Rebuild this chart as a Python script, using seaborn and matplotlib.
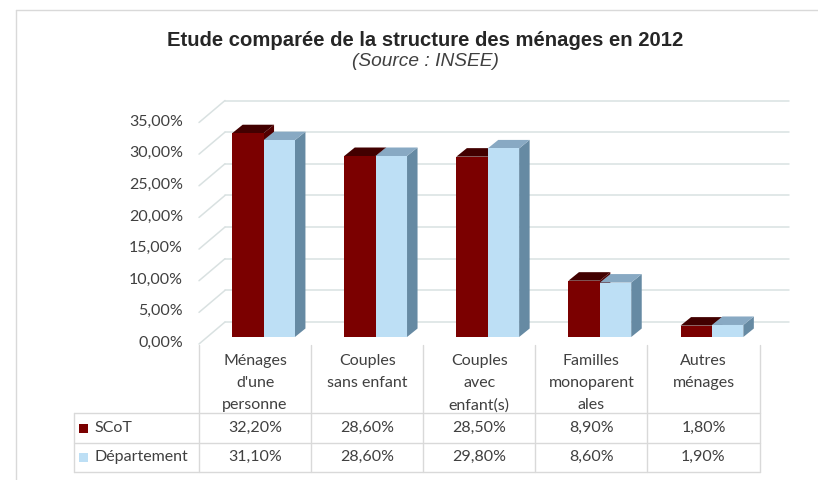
import matplotlib
matplotlib.use("Agg")
import matplotlib.pyplot as plt
import matplotlib.transforms as mtransforms
from matplotlib.patches import Polygon, Rectangle
from matplotlib.lines import Line2D
import pandas as pd
import seaborn as sns

# data
categories = ["Ménages\nd'une\npersonne", "Couples\nsans enfant", "Couples\navec\nenfant(s)",
              "Familles\nmonoparent\nales", "Autres\nménages"]
series = ["SCoT", "Département"]
scot = [32.2, 28.6, 28.5, 8.9, 1.8]
departement = [31.1, 28.6, 29.8, 8.6, 1.9]
yticks = [0, 5, 10, 15, 20, 25, 30, 35]

front_colors = ["#7b0000", "#bddff5"]
top_colors = ["#420000", "#88a9c3"]
side_colors = ["#520000", "#668aa3"]
grid_color = "#d9e1e1"
line_color = "#d9d9d9"
text_color = "#404040"


def fr_pct(v):
    return f"{v:.2f}".replace(".", ",") + "%"


df = pd.DataFrame({
    "cat": categories * 2,
    "serie": [series[0]] * len(scot) + [series[1]] * len(departement),
    "val": scot + departement,
})

sns.set_style("white")
plt.rcParams["font.family"] = ["Lato", "DejaVu Sans"]

W, H = 818, 480
fig = plt.figure(figsize=(W / 100, H / 100), dpi=100)
ax = fig.add_axes([207.5 / W, (H - 337) / H, 560.5 / W, 221.5 / H])

sns.barplot(data=df, x="cat", y="val", hue="serie", palette=front_colors,
            width=0.56, gap=0, saturation=1, legend=False, linewidth=0, ax=ax)
ax.set_xlim(-0.5, 4.5)
ax.set_ylim(0, 35)
ax.set_xticks([])
ax.set_yticks([])
ax.set_xlabel("")
ax.set_ylabel("")
ax.patch.set_alpha(0)
for s in ax.spines.values():
    s.set_visible(False)


def shift(dx, dy):
    return mtransforms.ScaledTranslation(dx / 100, dy / 100, fig.dpi_scale_trans)


# pixel -> data scale
p0 = ax.transData.transform((0, 0))
p1 = ax.transData.transform((1, 1))
px_x = p1[0] - p0[0]
px_y = p1[1] - p0[1]

# back wall gridlines + left diagonals
back = ax.transData + shift(17.5, 15)
for v in yticks:
    ax.plot([-0.5, 4.53], [v, v], transform=back, color=grid_color, lw=1.1,
            zorder=1, clip_on=False)
    ax.plot([-0.5 - 8.5 / px_x, -0.5 + 17.5 / px_x], [v - 7 / px_y, v + 15 / px_y],
            color=grid_color, lw=1.1, zorder=1, clip_on=False)
    ax.text(-0.5, v, fr_pct(v), transform=ax.transData + shift(-24.5, -6),
            ha="right", va="center", fontsize=11.5, color=text_color)

# 3D faces of bars
ddx = 10.5 / px_x
ddy = 8.5 / px_y
for i, cont in enumerate(ax.containers):
    for bar in cont:
        bar.set_zorder(3)
        x0, w, h = bar.get_x(), bar.get_width(), bar.get_height()
        top = [(x0, h), (x0 + w, h), (x0 + w + ddx, h + ddy), (x0 + ddx, h + ddy)]
        side = [(x0 + w, 0), (x0 + w, h), (x0 + w + ddx, h + ddy), (x0 + w + ddx, ddy)]
        ax.add_patch(Polygon(side, closed=True, facecolor=side_colors[i],
                             edgecolor="none", zorder=2, clip_on=False))
        ax.add_patch(Polygon(top, closed=True, facecolor=top_colors[i],
                             edgecolor="none", zorder=2, clip_on=False))

# data table
def fy(ypx):
    return 1 - ypx / H


col = mtransforms.blended_transform_factory(ax.transData + shift(-8.5, 0), fig.transFigure)
for k in range(len(categories) + 1):
    ax.plot([k - 0.5, k - 0.5], [fy(345), fy(472)], transform=col, color=line_color,
            lw=1, zorder=1, clip_on=False)
for ypx in [413, 443, 472]:
    ax.plot([74 / W, 760 / W], [fy(ypx), fy(ypx)], transform=fig.transFigure,
            color=line_color, lw=1, zorder=1, clip_on=False)
ax.plot([74 / W, 74 / W], [fy(413), fy(472)], transform=fig.transFigure,
        color=line_color, lw=1, zorder=1, clip_on=False)

for i, cat in enumerate(categories):
    ax.text(i, fy(354), cat, transform=col, ha="center", va="top", fontsize=11.5,
            color=text_color, linespacing=1.72)
    ax.text(i, fy(428), fr_pct(scot[i]), transform=col, ha="center", va="center",
            fontsize=11.5, color=text_color)
    ax.text(i, fy(457), fr_pct(departement[i]), transform=col, ha="center", va="center",
            fontsize=11.5, color=text_color)

for name, ypx, c in zip(series, [428, 457], front_colors):
    ax.add_patch(Rectangle((79 / W, fy(ypx + 5)), 9 / W, 9 / H, transform=fig.transFigure,
                           facecolor=c, edgecolor="none", clip_on=False))
    ax.text(94 / W, fy(ypx), name, transform=fig.transFigure, ha="left", va="center",
            fontsize=11.5, color=text_color)

# chart border
fig.add_artist(Line2D([16 / W, 16 / W], [0, fy(10)], color=line_color, lw=1))
fig.add_artist(Line2D([16 / W, 1], [fy(10), fy(10)], color=line_color, lw=1))

fig.text(425 / W, fy(40), "Etude comparée de la structure des ménages en 2012",
         ha="center", va="center", fontsize=14.6, fontweight="bold",
         family="Liberation Sans", color="#262626")
fig.text(425 / W, fy(62), "(Source : INSEE)", ha="center", va="center", fontsize=13.8,
         style="italic", family="Liberation Sans", color="#404040")

fig.savefig("out.png", dpi=100, facecolor="white")
